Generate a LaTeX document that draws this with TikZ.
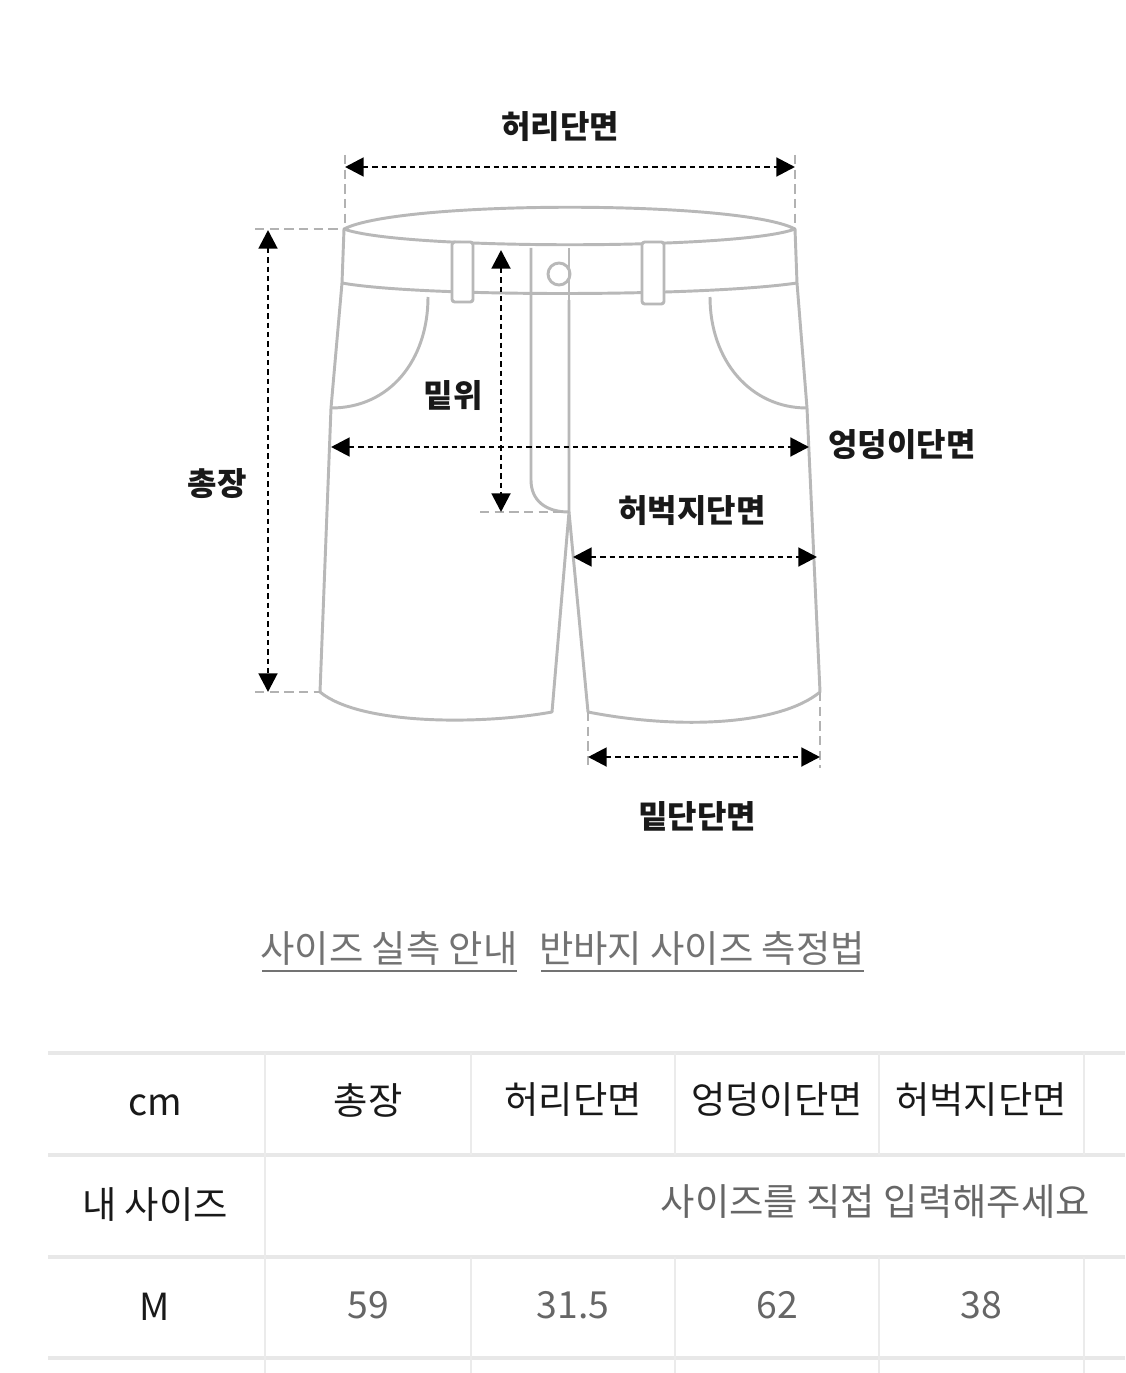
\documentclass[tikz,border=0pt]{standalone}
\usepackage{fontspec}
\setmainfont{Noto Sans CJK KR}
\usetikzlibrary{arrows.meta}
\begin{document}
\begin{tikzpicture}[x=0.75pt,y=-0.75pt,
  garment/.style={draw=black!28,line width=2.2pt,line join=round},
  dim/.style={black,line width=2.2pt,dash pattern=on 4pt off 3pt,{Triangle[length=14pt,width=14pt]}-{Triangle[length=14pt,width=14pt]}},
  ext/.style={draw=black!30,line width=1.5pt,dash pattern=on 7pt off 4pt},
  lbl/.style={font=\fontsize{24}{28}\selectfont\bfseries,text=black!90},
  tline/.style={draw=black!9,line width=2.5pt},
  tline2/.style={draw=black!8,line width=1.6pt},
  th/.style={font=\fontsize{28}{32}\selectfont,text=black!90},
  td/.style={font=\fontsize{28}{32}\selectfont,text=black!60}]
\useasboundingbox[fill=white] (0,0) rectangle (1125,1373);
% garment
\draw[garment] (344,229) .. controls (400,200) and (740,200) .. (795,229)
  .. controls (740,250) and (400,250) .. (344,229) -- cycle;
\draw[garment] (344,229) -- (342,283) .. controls (420,297) and (700,297) .. (797,283) -- (795,229);
\draw[garment,fill=white,rounded corners=2pt] (452,242) rectangle (473,302);
\draw[garment,fill=white,rounded corners=2pt] (642,242) rectangle (664,304);
\draw[garment] (531,248) -- (531,480) .. controls (531,500) and (545,512) .. (569,512) -- (569,300);
\draw[garment] (569,300) -- (569,248);
\draw[garment] (559,274) circle (11);
\draw[garment] (342,283) -- (331,408) -- (320,692)
  .. controls (360,725) and (480,725) .. (552,712) -- (569,512) -- (588,712)
  .. controls (680,730) and (780,725) .. (820,692) -- (807,408) -- (797,283);
\draw[garment] (428,297) .. controls (428,360) and (390,408) .. (331,408);
\draw[garment] (710,297) .. controls (710,360) and (750,408) .. (807,408);
% extension lines
\coordinate (w1) at (345,155); \coordinate (w2) at (345,229);
\coordinate (w3) at (795,155); \coordinate (w4) at (795,229);
\draw[ext] (w1) -- (w2); \draw[ext] (w3) -- (w4);
\coordinate (t1) at (255,229); \coordinate (t2) at (344,229);
\coordinate (t3) at (255,692); \coordinate (t4) at (320,692);
\draw[ext] (t1) -- (t2); \draw[ext] (t3) -- (t4);
\coordinate (r1) at (480,512); \coordinate (r2) at (569,512);
\draw[ext] (r1) -- (r2);
\coordinate (h1) at (588,712); \coordinate (h2) at (588,768);
\coordinate (h3) at (820,692); \coordinate (h4) at (820,768);
\draw[ext] (h1) -- (h2); \draw[ext] (h3) -- (h4);
% dimension arrows
\coordinate (a1) at (345,167); \coordinate (a2) at (795,167);
\draw[dim] (a1) -- (a2);
\coordinate (b1) at (268,230); \coordinate (b2) at (268,692);
\draw[dim] (b1) -- (b2);
\coordinate (c1) at (501,250); \coordinate (c2) at (501,512);
\draw[dim] (c1) -- (c2);
\coordinate (d1) at (331,447); \coordinate (d2) at (809,447);
\draw[dim] (d1) -- (d2);
\coordinate (e1) at (573,557); \coordinate (e2) at (817,557);
\draw[dim] (e1) -- (e2);
\coordinate (f1) at (588,757); \coordinate (f2) at (820,757);
\draw[dim] (f1) -- (f2);
% labels
\node[lbl] (lw) at (560,127) {허리단면};
\node[lbl] (lt) at (217,484) {총장};
\node[lbl] (lr) at (453,395) {밑위};
\node[lbl] (lh) at (902,445) {엉덩이단면};
\node[lbl] (lth) at (692,511) {허벅지단면};
\node[lbl] (lhe) at (697,816) {밑단단면};
% links
\node[font=\fontsize{28}{32}\selectfont,text=black!55,inner sep=0pt] (k1) at (389,948) {사이즈 실측 안내};
\node[font=\fontsize{28}{32}\selectfont,text=black!55,inner sep=0pt] (k2) at (702,948) {반바지 사이즈 측정법};
\draw[black!55,line width=1.5pt] (262,971) -- (517,971);
\draw[black!55,line width=1.5pt] (541,971) -- (864,971);
% table
\foreach \y in {1053,1155,1257,1358} \draw[tline] (48,\y) -- (1125,\y);
\draw[tline2] (265,1053) -- (265,1373);
\foreach \x in {471,675,879,1084} {\draw[tline2] (\x,1053) -- (\x,1155); \draw[tline2] (\x,1257) -- (\x,1373);}
\node[th] (c0) at (155,1105) {cm};
\node[th] (c1) at (368,1100) {총장};
\node[th] (c2) at (573,1100) {허리단면};
\node[th] (c3) at (777,1100) {엉덩이단면};
\node[th] (c4) at (981,1100) {허벅지단면};
\node[th] (m0) at (155,1205) {내 사이즈};
\node[td,anchor=east,inner sep=0pt] (m1) at (1090,1202) {사이즈를 직접 입력해주세요};
\node[th] (s0) at (155,1307) {M};
\node[td] (s1) at (368,1305) {59};
\node[td] (s2) at (573,1305) {31.5};
\node[td] (s3) at (777,1305) {62};
\node[td] (s4) at (981,1305) {38};
\end{tikzpicture}
\end{document}
